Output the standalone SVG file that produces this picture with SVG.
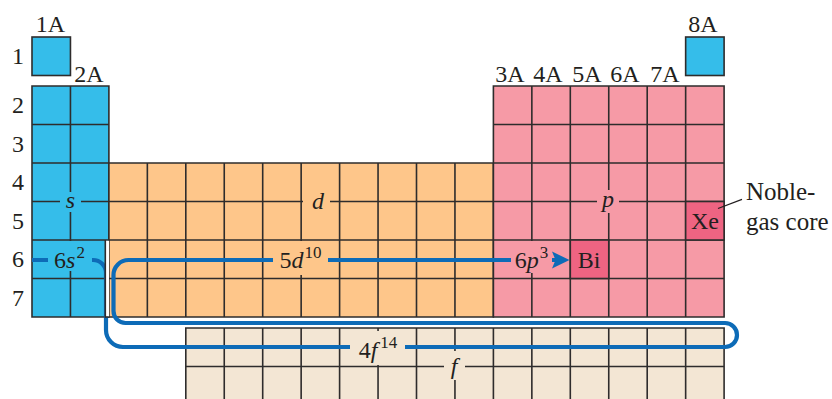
<svg xmlns="http://www.w3.org/2000/svg" width="832" height="399" viewBox="0 0 832 399">
<style>
text{font-family:"Liberation Serif","Times New Roman",serif;font-size:24px;fill:#231f20}
.it{font-style:italic}
.sup{font-size:17px}
.grid{fill:none;stroke:#2e2c2c;stroke-width:1.6}
.s{fill:#35bdea}
.d{fill:#fec68a}
.p{fill:#f69aa6}
.f{fill:#f3e6d4}
.hi{fill:#ee6482}
.conn{fill:none;stroke:#0d6bb7;stroke-width:4.2;stroke-linecap:butt}
.mid{text-anchor:middle}
</style>
<rect width="832" height="399" fill="#ffffff"/>

<g id="s-block">
<rect class="s" x="32" y="37" width="38.45" height="38.5"/>
<rect class="grid" x="32" y="37" width="38.45" height="38.5"/>
<rect class="s" x="32" y="86" width="76.9" height="231"/>
<path class="grid" d="M32,86H108.9V317H32Z M70.45,86V317 M32,124.5H108.9 M32,163H108.9 M32,201.5H108.9 M32,240H108.9 M32,278.5H108.9"/>
</g>

<g id="d-block">
<rect class="d" x="108.9" y="163" width="384.5" height="154"/>
<path class="grid" d="M108.9,163H493.4V317H108.9Z M147.35,163V317 M185.8,163V317 M224.25,163V317 M262.7,163V317 M301.15,163V317 M339.6,163V317 M378.05,163V317 M416.5,163V317 M454.95,163V317 M108.9,201.5H493.4 M108.9,240H493.4 M108.9,278.5H493.4"/>
</g>

<g id="p-block">
<rect class="p" x="493.4" y="86" width="230.7" height="231"/>
<path class="grid" d="M493.4,86H724.1V317H493.4Z M531.85,86V317 M570.3,86V317 M608.75,86V317 M647.2,86V317 M685.65,86V317 M493.4,124.5H724.1 M493.4,163H724.1 M493.4,201.5H724.1 M493.4,240H724.1 M493.4,278.5H724.1"/>
<rect class="s" x="685.65" y="37" width="38.45" height="38.5"/>
<rect class="grid" x="685.65" y="37" width="38.45" height="38.5"/>
</g>

<g id="f-block">
<rect class="f" x="185.8" y="328" width="538.3" height="80"/>
<path class="grid" d="M185.8,408V328H724.1V408 M224.25,328V399 M262.7,328V399 M301.15,328V399 M339.6,328V399 M378.05,328V399 M416.5,328V399 M454.95,328V399 M493.4,328V399 M531.85,328V399 M570.3,328V399 M608.75,328V399 M647.2,328V399 M685.65,328V399 M185.8,366.5H724.1"/>
</g>

<g id="bi">
<rect class="hi" x="570.3" y="240" width="38.45" height="38.5"/>
<rect class="grid" x="570.3" y="240" width="38.45" height="38.5"/>
<text class="mid" x="589" y="267.5">Bi</text>
</g>

<g id="xe">
<rect class="hi" x="685.65" y="201.5" width="38.45" height="38.5"/>
<rect class="grid" x="685.65" y="201.5" width="38.45" height="38.5"/>
<text class="mid" x="705" y="229">Xe</text>
</g>

<g id="block-labels">
<rect class="s" x="60" y="192" width="21" height="20"/>
<text class="it mid" x="70.4" y="207.5">s</text>
<rect class="d" x="303" y="191" width="27" height="20"/>
<text class="it mid" x="318" y="208.5">d</text>
<rect class="p" x="597" y="190" width="22" height="23"/>
<text class="it mid" x="608" y="206.5">p</text>
<rect class="f" x="444" y="351" width="21" height="29"/>
<text class="it mid" x="454" y="374">f</text>
</g>

<g id="axis-labels">
<text class="mid" x="50.5" y="31.5">1A</text>
<text class="mid" x="89" y="81.5">2A</text>
<text class="mid" x="510" y="81.5">3A</text>
<text class="mid" x="548" y="81.5">4A</text>
<text class="mid" x="587" y="81.5">5A</text>
<text class="mid" x="625" y="81.5">6A</text>
<text class="mid" x="665" y="81.5">7A</text>
<text class="mid" x="703" y="31.5">8A</text>
<text class="mid" x="18" y="64">1</text>
<text class="mid" x="18" y="113">2</text>
<text class="mid" x="18" y="151.5">3</text>
<text class="mid" x="18" y="190">4</text>
<text class="mid" x="18" y="228.5">5</text>
<text class="mid" x="18" y="267">6</text>
<text class="mid" x="18" y="305.5">7</text>
</g>

<g id="noble-gas-core">
<line x1="718" y1="208.5" x2="742" y2="199.3" stroke="#231f20" stroke-width="1.3"/>
<text x="746" y="200" style="font-size:25px">Noble-</text>
<text x="746" y="230" style="font-size:25px">gas core</text>
</g>

<g id="connectors">
<path class="conn" d="M32,260H93A13,13 0 0 1 106,273V330A17,17 0 0 0 123,347H725A12,12 0 0 0 725,323H125.5A12,12 0 0 1 113.5,311V275A15,15 0 0 1 128.5,260H556"/>
<rect x="106" y="240.8" width="3" height="76.2" fill="#ffffff"/>
<line x1="105.3" y1="240" x2="105.3" y2="317.8" stroke="#2e2c2c" stroke-width="1.6"/>
<line x1="105.3" y1="317" x2="108.9" y2="317" stroke="#2e2c2c" stroke-width="1.6"/>
<polygon points="552,251.5 569.5,260 552,268.5 555.5,260" fill="#0d6bb7"/>
<rect class="s" x="48" y="241" width="44" height="30"/>
<text class="mid" x="69.5" y="267.5">6<tspan class="it">s</tspan><tspan class="sup" dx="1" dy="-10">2</tspan></text>
<rect class="d" x="273" y="241" width="55" height="34"/>
<text class="mid" x="300.5" y="267.5">5<tspan class="it">d</tspan><tspan class="sup" dx="1" dy="-10">10</tspan></text>
<rect class="p" x="511" y="241" width="41" height="32"/>
<text class="mid" x="531.5" y="267.5">6<tspan class="it">p</tspan><tspan class="sup" dx="1" dy="-10">3</tspan></text>
<rect class="f" x="350" y="331" width="55" height="34"/>
<text class="mid" x="378" y="357.5">4<tspan class="it">f</tspan><tspan class="sup" dx="3" dy="-10">14</tspan></text>
</g>
</svg>
